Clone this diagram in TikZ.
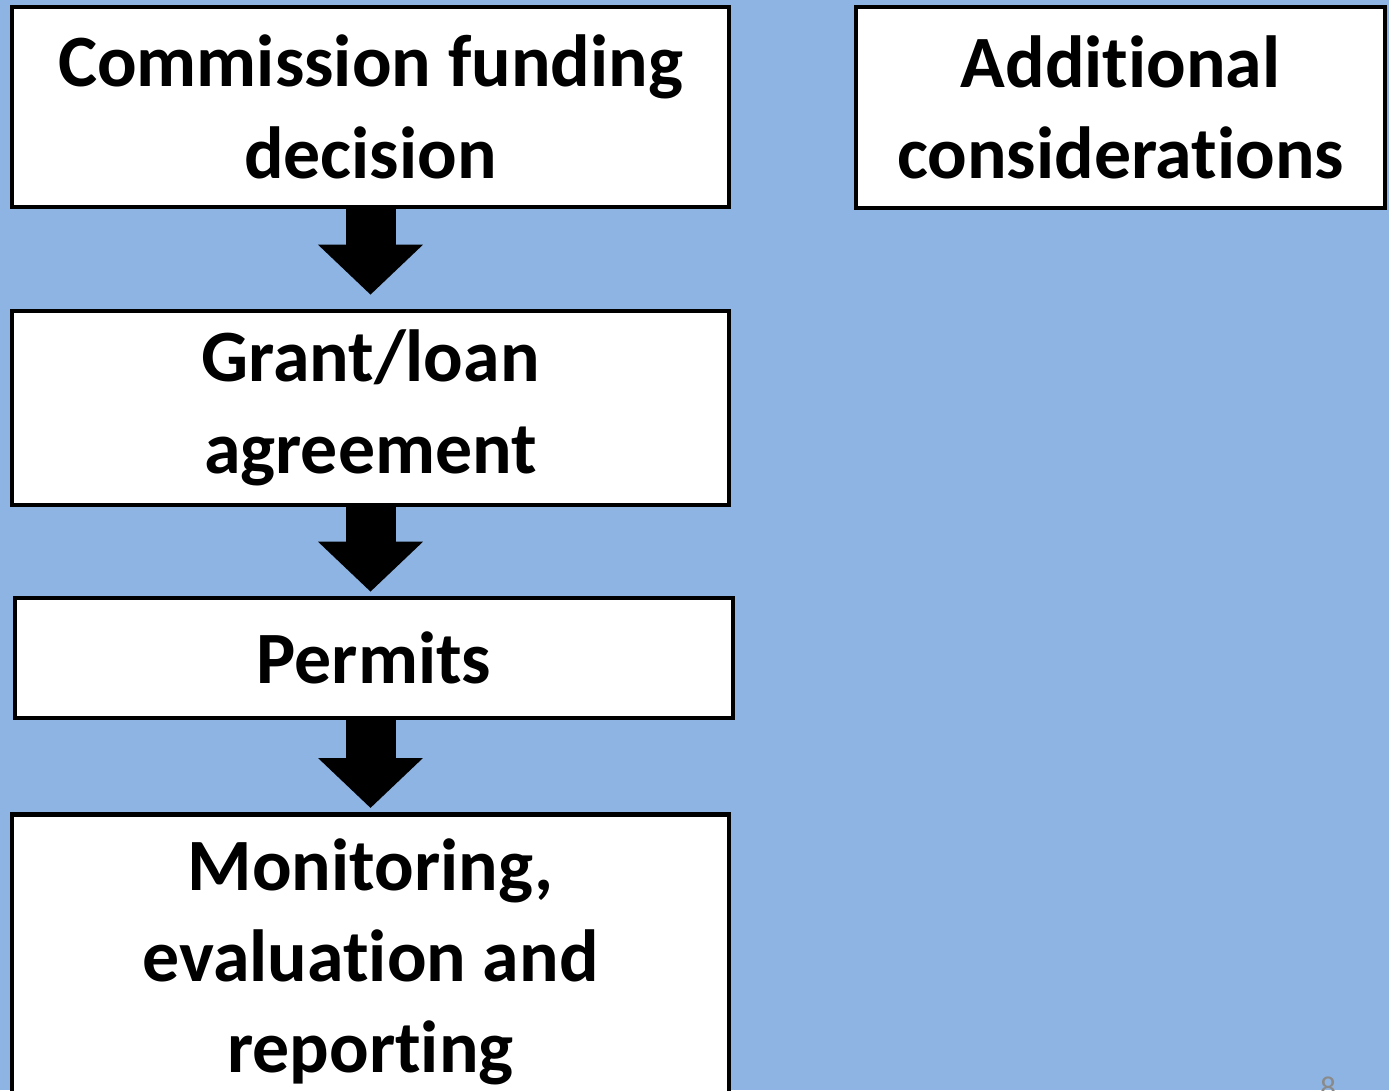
\documentclass[tikz,border=0pt]{standalone}
\usepackage{fontspec}
\setmainfont{Carlito}[Ligatures = NoCommon]
\usepackage{xcolor}
\usepackage{tikz}
\usetikzlibrary{calc}
\usetikzlibrary{arrows.meta}
\definecolor{SlideBlue}{HTML}{8EB4E3}
\definecolor{PageGray}{HTML}{8A8A8A}

\tikzset{
  stepbox/.style = {draw, fill = white, line width = 2.6pt, align = center,
    inner sep = 0pt, font = \fontsize{42}{52}\selectfont\bfseries},
  blockarrow/.style = {line width = 1cm,
    -{Triangle[width = 2.04cm, length = 1cm]}}
}

\begin{document}
\begin{tikzpicture}
  % page and background
  \useasboundingbox (0,0) rectangle (27.78,-21.8);
  \clip (0,0) rectangle (27.78,-21.8);
  \fill[SlideBlue] (0,0) rectangle (27.78,-21.8);

  % process chain
  \node[stepbox, minimum width = 14.34cm, minimum height = 4cm]
    (decision) at (7.41,-2.14) {Commission funding\\decision};
  \node[stepbox, minimum width = 14.34cm, minimum height = 3.88cm]
    (agreement) at (7.41,-8.16) {Grant/loan\\agreement};
  \node[stepbox, minimum width = 14.36cm, minimum height = 2.4cm]
    (permits) at (7.48,-13.16) {Permits};
  \node[stepbox, anchor = north, minimum width = 14.34cm, minimum height = 5.9cm]
    (monitoring) at (7.41,-16.24) {Monitoring,\\evaluation and\\reporting};

  % side box
  \node[stepbox, minimum width = 10.58cm, minimum height = 4.02cm]
    (additional) at (22.41,-2.15) {Additional\\considerations};

  % arrows between steps
  \draw[blockarrow, shorten > = .28cm] (decision.south) -- (agreement.north);
  \draw[blockarrow, shorten > = .08cm] (agreement.south)
    -- (agreement.south |- permits.north);
  \draw[blockarrow, shorten > = .08cm] (monitoring.north |- permits.south)
    -- (monitoring.north);

  % page number
  \node[text = PageGray, font = \fontsize{18}{20}\selectfont, anchor = north]
    (pagenum) at (26.56,-21.42) {8};

\end{tikzpicture}
\end{document}
